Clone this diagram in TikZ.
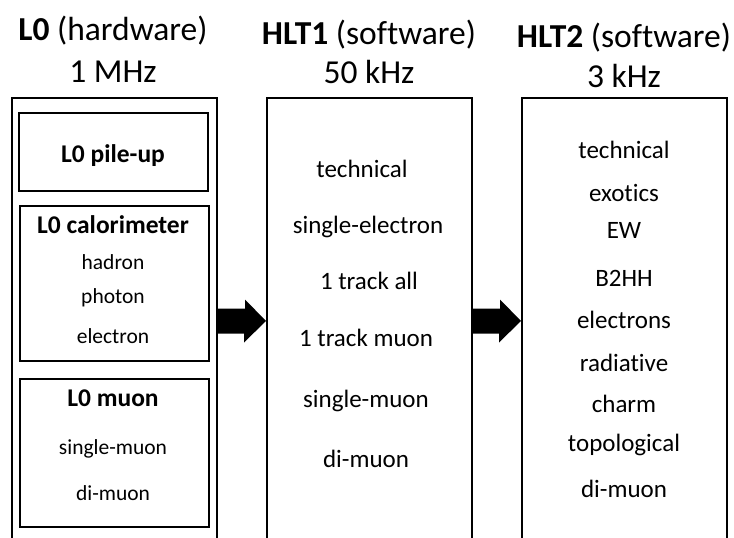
\documentclass[tikz,border=0pt]{standalone}
\usepackage{fontspec}
\setmainfont{Carlito}[Ligatures=NoCommon]
\begin{document}
\begin{tikzpicture}[x=1pt,y=-1pt,
  stagebox/.style={draw, line width=2pt, inner sep=0pt, anchor=north west},
  subbox/.style={draw, line width=2pt, inner sep=0pt, anchor=north west},
  ttl/.style={font=\fontsize{33.5}{38}\selectfont, inner sep=0pt, anchor=base},
  item/.style={font=\fontsize{25}{30}\selectfont, inner sep=0pt, anchor=base},
  sitem/.style={font=\fontsize{21.5}{26}\selectfont, inner sep=0pt, anchor=base},
  bitem/.style={font=\fontsize{25.5}{30}\selectfont\bfseries, inner sep=0pt, anchor=base},
  flow/.style={fill=black}]
\clip (0,0) rectangle (734,538);
% stage boxes
\node[stagebox, minimum width=205pt, minimum height=470pt] (l0) at (11,97) {};
\node[stagebox, minimum width=205pt, minimum height=470pt] (h1) at (266,97) {};
\node[stagebox, minimum width=205pt, minimum height=470pt] (h2) at (521,97) {};
% titles
\node[ttl] (t0) at (113,40) {\textbf{L0} (hardware)};
\node[ttl] (r0) at (113,82) {1 MHz};
\node[ttl] (t1) at (369,44) {\textbf{HLT1} (software)};
\node[ttl] (r1) at (369,83) {50 kHz};
\node[ttl] (t2) at (624,47) {\textbf{HLT2} (software)};
\node[ttl] (r2) at (624,87) {3 kHz};
% L0 sub boxes
\node[subbox, minimum width=189pt, minimum height=78pt] (pu) at (18,112) {};
\node[subbox, minimum width=189pt, minimum height=155pt] (cal) at (19,205) {};
\node[subbox, minimum width=189pt, minimum height=148pt] (mu) at (19,378) {};
\node[bitem] (pul) at (113,162) {L0 pile-up};
\node[bitem] (call) at (113,233) {L0 calorimeter};
\node[sitem] (c1) at (113,269) {hadron};
\node[sitem] (c2) at (113,303) {photon};
\node[sitem] (c3) at (113,343) {electron};
\node[bitem] (mul) at (113,406) {L0 muon};
\node[sitem] (m1) at (113,454) {single-muon};
\node[sitem] (m2) at (113,500) {di-muon};
% HLT1 lines
\node[item] (a1) at (362,177) {technical};
\node[item] (a2) at (368,233) {single-electron};
\node[item] (a3) at (369,289) {1 track all};
\node[item] (a4) at (366,346) {1 track muon};
\node[item] (a5) at (366,407) {single-muon};
\node[item] (a6) at (366,467) {di-muon};
% HLT2 lines
\node[item] (b1) at (624,158) {technical};
\node[item] (b2) at (624,201) {exotics};
\node[item] (b3) at (624,238) {EW};
\node[item] (b4) at (624,286) {B2HH};
\node[item] (b5) at (624,328) {electrons};
\node[item] (b6) at (624,371) {radiative};
\node[item] (b7) at (624,412) {charm};
\node[item] (b8) at (624,451) {topological};
\node[item] (b9) at (624,497) {di-muon};
% arrows
\coordinate (ay) at (0,321);
\coordinate (f1) at (l0.east |- ay);
\coordinate (f2) at (h1.east |- ay);
\fill[flow] (f1) ++(0,-12.5) -- ++(27,0) -- ++(0,-9) -- (h1.west |- ay) -- ++(-22,21.5) -- ++(0,-9) -- ++(-27,0) -- cycle;
\fill[flow] (f2) ++(0,-12.5) -- ++(27,0) -- ++(0,-9) -- (h2.west |- ay) -- ++(-22,21.5) -- ++(0,-9) -- ++(-27,0) -- cycle;
\end{tikzpicture}
\end{document}
